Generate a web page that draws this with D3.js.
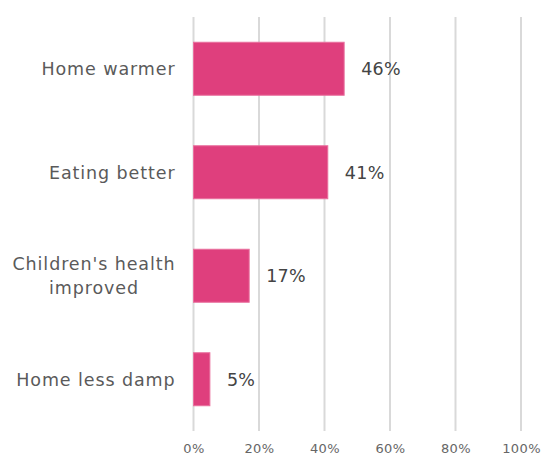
<!DOCTYPE html>
<html>
<head>
<meta charset="utf-8">
<script src="https://cdn.jsdelivr.net/npm/d3@7"></script>
<style>
  html, body { margin: 0; padding: 0; background: #fff; }
  svg { display: block; font-family: "DejaVu Sans", Verdana, sans-serif; }
</style>
</head>
<body>
<svg id="chart" width="545" height="457"></svg>
<script>
// Share of respondents reporting each outcome
const categories = ["Home warmer", "Eating better", "Children's health\nimproved", "Home less damp"];
const values = [46, 41, 17, 5];
const tickValues = [0, 20, 40, 60, 80, 100];

const svg = d3.select("#chart");
const margin = { top: 17, right: 24, bottom: 26, left: 193.5 };
const width = 545 - margin.left - margin.right;
const height = 457 - margin.top - margin.bottom;

const x = d3.scaleLinear().domain([0, 100]).range([0, width]);
const y = d3.scaleBand().domain(categories).range([0, height]).paddingInner(0.488).paddingOuter(0.244);

const g = svg.append("g").attr("transform", `translate(${margin.left},${margin.top})`);

// vertical gridlines
g.selectAll("line.grid")
  .data(tickValues)
  .join("line")
  .attr("class", "grid")
  .attr("x1", d => x(d)).attr("x2", d => x(d))
  .attr("y1", 0).attr("y2", height)
  .attr("stroke", "#d9d9d9")
  .attr("stroke-width", 2);

// x axis tick labels
const xAxis = d3.axisBottom(x).tickValues(tickValues).tickFormat(d => d + "%").tickSize(0).tickPadding(13);
const ax = g.append("g").attr("transform", `translate(0,${height})`).call(xAxis);
ax.select(".domain").remove();
ax.selectAll("text")
  .attr("fill", "#666")
  .style("font-size", "13px")
  .style("letter-spacing", "0.4px")
  .style("font-family", "DejaVu Sans, Verdana, sans-serif");

// bars
g.selectAll("rect.bar")
  .data(values)
  .join("rect")
  .attr("class", "bar")
  .attr("x", x(0))
  .attr("y", (d, i) => y(categories[i]))
  .attr("width", d => x(d) - x(0))
  .attr("height", y.bandwidth())
  .attr("fill", "#df3f7d")
  .attr("stroke", "#e96f9e")
  .attr("stroke-width", 1);

// value labels
g.selectAll("text.value")
  .data(values)
  .join("text")
  .attr("class", "value")
  .attr("x", d => x(d) + 17)
  .attr("y", (d, i) => y(categories[i]) + y.bandwidth() / 2)
  .attr("dy", "0.36em")
  .attr("fill", "#444")
  .style("font-size", "17.5px")
  .style("letter-spacing", "0.3px")
  .text(d => d + "%");

// category labels (multi-line where needed)
const labelRight = -18;
const lineH = 23.5;
const catG = g.selectAll("g.cat")
  .data(categories)
  .join("g")
  .attr("class", "cat")
  .attr("transform", d => `translate(0,${y(d) + y.bandwidth() / 2})`);

catG.each(function (d) {
  const lines = d.split("\n");
  const el = d3.select(this);
  const t = el.append("text")
    .attr("fill", "#5a5a5a")
    .style("font-size", "17.5px")
    .style("letter-spacing", "0.9px")
    .attr("text-anchor", "middle");
  lines.forEach((ln, k) => {
    t.append("tspan")
      .attr("x", 0)
      .attr("y", (k - (lines.length - 1) / 2) * lineH)
      .attr("dy", "0.36em")
      .text(ln);
  });
  // right-align the block while keeping lines centred to each other
  const bb = t.node().getBBox();
  t.attr("transform", `translate(${labelRight - (bb.x + bb.width)},0)`);
});
</script>
</body>
</html>
